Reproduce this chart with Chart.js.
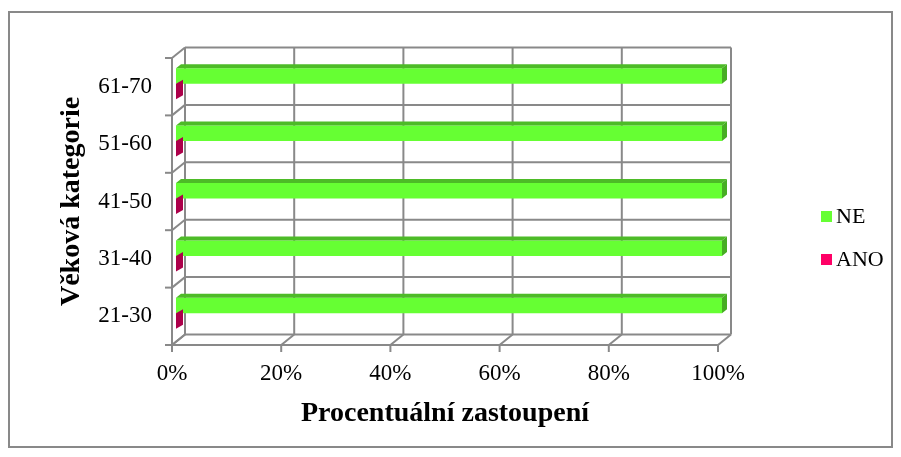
<!DOCTYPE html>
<html>
<head>
<meta charset="utf-8">
<title>Věková kategorie</title>
<script src="https://cdn.jsdelivr.net/npm/chart.js@4/dist/chart.umd.min.js"></script>
<style>
  html, body { margin: 0; padding: 0; background: #fff; }
  #wrap { width: 901px; height: 457px; position: relative; }
</style>
</head>
<body>
<div id="wrap"><canvas id="barChart" width="901" height="457"></canvas></div>
<script>
// data (bottom to top)
var categories = ["21-30", "31-40", "41-50", "51-60", "61-70"];
var seriesNames = ["NE", "ANO"];
var neValues = [100, 100, 100, 100, 100];
var anoValues = [0, 0, 0, 0, 0];
var xTicks = [0, 20, 40, 60, 80, 100];

var gridColor = "#898989";
var faceColors = {
  NE: { top: "#4dbb27", side: "#47ad23", dx: 5 },
  ANO: { top: "#c0005a", side: "#ac004a", dx: 7 }
};

var depth = { dx: 13, dy: 10.5 };   // 3D back wall offset
var barShift = { dx: 4, dy: -3 };   // bars sit in the middle of the depth
var barDepthY = -4;

function line(ctx, x1, y1, x2, y2) {
  ctx.beginPath();
  ctx.moveTo(x1, y1);
  ctx.lineTo(x2, y2);
  ctx.stroke();
}

var frame3d = {
  id: "frame3d",
  beforeDraw: function(chart) {
    var ctx = chart.ctx;
    ctx.save();
    ctx.strokeStyle = gridColor;
    ctx.lineWidth = 2;
    ctx.strokeRect(9, 12, 883, 435);
    ctx.restore();
  },
  beforeDatasetsDraw: function(chart) {
    var ctx = chart.ctx;
    var a = chart.chartArea;
    var x = chart.scales.x;
    var y = chart.scales.y;
    ctx.save();
    ctx.strokeStyle = gridColor;
    ctx.lineWidth = 2;

    // vertical lines on the back wall + floor diagonals + ticks
    xTicks.forEach(function(v) {
      var px = x.getPixelForValue(v);
      line(ctx, px + depth.dx, a.top - depth.dy, px + depth.dx, a.bottom - depth.dy);
      line(ctx, px, a.bottom, px + depth.dx, a.bottom - depth.dy);
      line(ctx, px, a.bottom, px, a.bottom + 7);
    });

    // horizontal lines between categories + side wall diagonals + ticks
    for (var i = 0; i <= categories.length; i++) {
      var py = y.getPixelForValue(i - 0.5);
      line(ctx, a.left + depth.dx, py - depth.dy, x.getPixelForValue(100) + depth.dx, py - depth.dy);
      line(ctx, a.left, py, a.left + depth.dx, py - depth.dy);
      line(ctx, a.left - 7, py, a.left, py);
    }

    // front axes
    line(ctx, a.left, a.top, a.left, a.bottom);
    line(ctx, a.left, a.bottom, a.right, a.bottom);
    ctx.restore();

    ctx.save();
    ctx.translate(barShift.dx, barShift.dy);
  },
  afterDatasetsDraw: function(chart) {
    var ctx = chart.ctx;
    chart.data.datasets.forEach(function(ds, di) {
      var meta = chart.getDatasetMeta(di);
      var c = faceColors[ds.label];
      meta.data.forEach(function(bar) {
        var p = bar.getProps(["x", "y", "base", "height"], true);
        var x0 = p.base, x1 = p.x;
        var y0 = p.y - p.height / 2, y1 = p.y + p.height / 2;
        // top face
        ctx.fillStyle = c.top;
        ctx.beginPath();
        ctx.moveTo(x0, y0);
        ctx.lineTo(x0 + c.dx, y0 + barDepthY);
        ctx.lineTo(x1 + c.dx, y0 + barDepthY);
        ctx.lineTo(x1, y0);
        ctx.closePath();
        ctx.fill();
        // end face
        ctx.fillStyle = c.side;
        ctx.beginPath();
        ctx.moveTo(x1, y0);
        ctx.lineTo(x1 + c.dx, y0 + barDepthY);
        ctx.lineTo(x1 + c.dx, y1 + barDepthY);
        ctx.lineTo(x1, y1);
        ctx.closePath();
        ctx.fill();
      });
    });
    ctx.restore();
  },
  afterDraw: function(chart) {
    // legend on the right
    var ctx = chart.ctx;
    ctx.save();
    ctx.font = "22px 'Liberation Serif', 'Times New Roman', serif";
    ctx.textBaseline = "middle";
    chart.data.datasets.forEach(function(ds, i) {
      var by = 211 + i * 43;
      ctx.fillStyle = ds.backgroundColor;
      ctx.fillRect(821, by, 11, 11);
      ctx.fillStyle = "#000";
      ctx.fillText(ds.label, 836, by + 6);
    });
    ctx.restore();
  }
};

document.addEventListener("DOMContentLoaded", function() {
  Chart.defaults.font.family = "'Liberation Serif', 'Times New Roman', serif";
  Chart.defaults.color = "#000";

  var ctx = document.getElementById("barChart").getContext("2d");
  new Chart(ctx, {
    type: "bar",
    data: {
      labels: categories,
      datasets: [{
        label: seriesNames[0],
        data: neValues,
        backgroundColor: "#66ff33",
        clip: false
      }, {
        label: seriesNames[1],
        data: anoValues,
        backgroundColor: "#ff0066",
        clip: false
      }]
    },
    options: {
      indexAxis: "y",
      responsive: false,
      animation: false,
      categoryPercentage: 0.54,
      barPercentage: 1,
      layout: { padding: { left: 55, right: 183, top: 58, bottom: 20 } },
      plugins: {
        legend: { display: false },
        tooltip: { enabled: false }
      },
      scales: {
        x: {
          min: 0,
          max: 100,
          ticks: {
            stepSize: 20,
            padding: 15,
            font: { size: 23 },
            callback: function(v) { return v + "%"; }
          },
          grid: { display: false, drawTicks: false },
          border: { display: false },
          title: {
            display: true,
            text: "Procentuální zastoupení",
            font: { size: 28, weight: "bold" },
            padding: { top: 0, bottom: 6 }
          },
          afterFit: function(scale) { scale.height = 92; }
        },
        y: {
          reverse: true,
          ticks: { padding: 20, font: { size: 23 } },
          grid: { display: false, drawTicks: false },
          border: { display: false },
          title: {
            display: true,
            text: "Věková kategorie",
            font: { size: 28, weight: "bold" },
            padding: { top: 0, bottom: 0 }
          },
          afterFit: function(scale) { scale.width = 117; }
        }
      }
    },
    plugins: [frame3d]
  });
});
</script>
</body>
</html>
